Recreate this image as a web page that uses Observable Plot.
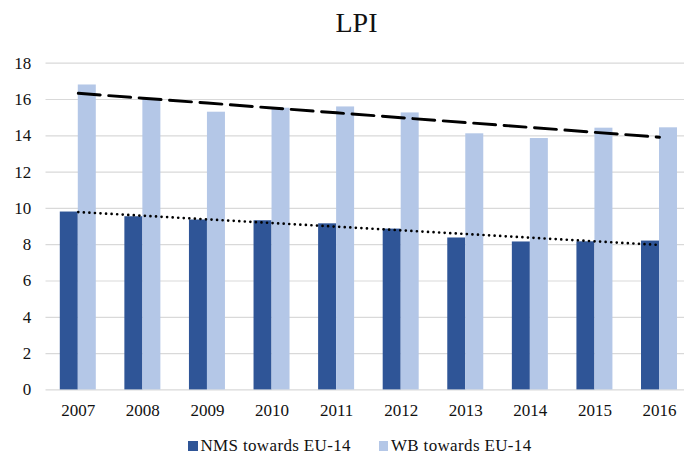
<!DOCTYPE html>
<html>
<head>
<meta charset="utf-8">
<script src="https://cdn.jsdelivr.net/npm/d3@7"></script>
<script src="https://cdn.jsdelivr.net/npm/@observablehq/plot@0.6"></script>
<style>
  html, body { margin: 0; padding: 0; background: #fff; overflow: hidden; width: 684px; height: 454px; }
  body { font-family: "Liberation Serif", "Times New Roman", serif; color: #111; position: relative; }
  #title { position: absolute; left: 0; top: 9.3px; width: 713px; text-align: center; font-size: 28px; line-height: 28px; }
  #chart { position: absolute; left: 0; top: 40px; }
  #legend { position: absolute; left: 0; top: 437px; width: 720px; display: flex; justify-content: center; gap: 28px; font-size: 17px; line-height: 17px; letter-spacing: 0.35px; }
  .item { display: flex; align-items: center; white-space: nowrap; }
  .sw { width: 9.4px; height: 9.4px; margin-right: 2.6px; display: inline-block; position: relative; top: 0.5px; }
</style>
</head>
<body>
<div id="title">LPI</div>
<div id="chart"></div>
<div id="legend"></div>
<script>
// ---- data ----
const years = ["2007", "2008", "2009", "2010", "2011", "2012", "2013", "2014", "2015", "2016"];
const seriesNames = ["NMS towards EU-14", "WB towards EU-14"];
const nms = [9.80, 9.54, 9.36, 9.32, 9.15, 8.86, 8.37, 8.15, 8.16, 8.20];
const wb  = [16.80, 16.03, 15.30, 15.52, 15.59, 15.26, 14.11, 13.85, 14.42, 14.44];
const yTicks = [0, 2, 4, 6, 8, 10, 12, 14, 16, 18];
const colors = ["#2f5597", "#b4c7e7"];

// ---- derived tables ----
const rowsNMS = years.map((y, i) => ({year: y, value: nms[i], series: seriesNames[0]}));
const rowsWB = years.map((y, i) => ({year: y, value: wb[i], series: seriesNames[1]}));

// least-squares linear trend (like Excel's linear trendline)
function trend(vals) {
  const xs = d3.range(vals.length);
  const mx = d3.mean(xs), my = d3.mean(vals);
  const b = d3.sum(xs, (x, i) => (x - mx) * (vals[i] - my)) / d3.sum(xs, x => (x - mx) ** 2);
  return years.map((y, i) => ({year: y, v: my + b * (i - mx)}));
}
const trendNMS = trend(nms);
const trendWB = trend(wb);

const chart = Plot.plot({
  width: 684,
  height: 385,
  marginTop: 22.7,
  marginBottom: 35.6,
  marginLeft: 45.5,
  marginRight: 0,
  style: {fontFamily: '"Liberation Serif", "Times New Roman", serif', fontSize: "17px", color: "#111", background: "transparent", overflow: "hidden"},
  x: {type: "band", domain: years, range: [45.5, 691.3], round: false, paddingInner: 0.7213, paddingOuter: 0.36065, tickSize: 0, tickPadding: 14.5, label: null},
  y: {domain: [0, 18], ticks: yTicks, tickSize: 0, tickPadding: 14.8, label: null},
  marks: [
    Plot.ruleY(yTicks, {stroke: "#d9d9d9", strokeWidth: 1.2}),
    Plot.barY(rowsNMS, {x: "year", y: "value", fill: colors[0], dx: -9}),
    Plot.barY(rowsWB, {x: "year", y: "value", fill: colors[1], dx: 9}),
    Plot.line(trendWB, {x: "year", y: "v", stroke: "#000", strokeWidth: 2.9, strokeDasharray: "22,8.5"}),
    Plot.line(trendNMS, {x: "year", y: "v", stroke: "#000", strokeWidth: 2.7, strokeDasharray: "0,5.56", strokeLinecap: "round"})
  ]
});
document.getElementById("chart").appendChild(chart);

// ---- legend ----
const legend = document.getElementById("legend");
seriesNames.forEach((name, i) => {
  const item = document.createElement("div");
  item.className = "item";
  const sw = document.createElement("span");
  sw.className = "sw";
  sw.style.background = colors[i];
  const label = document.createElement("span");
  label.textContent = name;
  item.appendChild(sw);
  item.appendChild(label);
  legend.appendChild(item);
});
</script>
</body>
</html>
